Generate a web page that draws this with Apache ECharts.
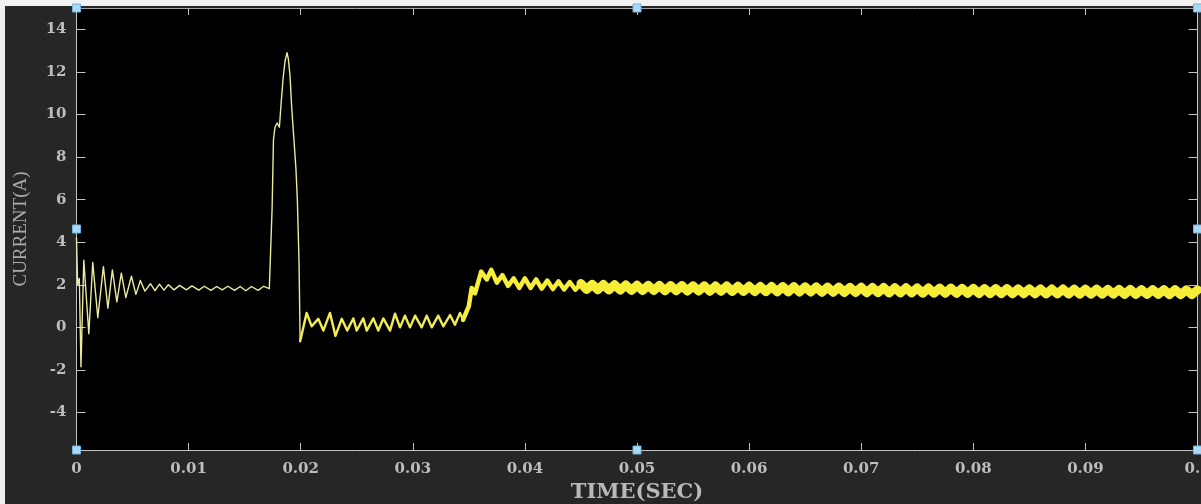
<!DOCTYPE html>
<html>
<head>
<meta charset="utf-8">
<script src="https://cdn.jsdelivr.net/npm/echarts@6/dist/echarts.min.js"></script>
<style>
html,body{margin:0;padding:0;background:#262626;}
#chart{width:1201px;height:504px;}
</style>
</head>
<body>
<div id="chart"></div>
<script>
// ---- data ----
const xTickValues = [0, 0.01, 0.02, 0.03, 0.04, 0.05, 0.06, 0.07, 0.08, 0.09, 0.1];
const xTickLabels = ['0', '0.01', '0.02', '0.03', '0.04', '0.05', '0.06', '0.07', '0.08', '0.09', '0.1'];
const yTickValues = [-4, -2, 0, 2, 4, 6, 8, 10, 12, 14];
const yTickLabels = ['-4', '-2', '0', '2', '4', '6', '8', '10', '12', '14'];
const xRange = [0, 0.1];
const yRange = [-5.76, 15];

const timeSec = [
  0, 0.0001, 0.00025, 0.0004, 0.00065, 0.0011, 0.00145, 0.0019, 0.0024, 0.0028,
  0.0032, 0.0036, 0.0040, 0.0044, 0.0049, 0.0053, 0.0057, 0.0061,
  0.0066, 0.0070, 0.0074, 0.0078, 0.0082, 0.0087, 0.0092, 0.0098, 0.0103, 0.0109,
  0.0114, 0.0120, 0.0125, 0.0130, 0.0135, 0.0141, 0.0146, 0.0151, 0.0156, 0.0162,
  0.0167, 0.0172,
  0.01735, 0.01745, 0.01757, 0.0177, 0.0179, 0.0181, 0.01825, 0.01843, 0.0186, 0.01878,
  0.0189, 0.01905, 0.0192, 0.0194, 0.01958, 0.0197, 0.01985, 0.01995,
  0.02053, 0.02098, 0.02157, 0.02202, 0.02261, 0.0231, 0.02366, 0.02415, 0.02469, 0.025,
  0.02558, 0.02589, 0.02648, 0.02692, 0.02737, 0.02797, 0.02841, 0.02886, 0.0293, 0.02975,
  0.0302, 0.03079, 0.03124, 0.03169, 0.03227, 0.03272, 0.03332, 0.03376, 0.03421, 0.03448,
  0.0350, 0.03525, 0.03555, 0.0361, 0.0366, 0.0370, 0.0375, 0.0380, 0.0385, 0.0390,
  0.0395, 0.0400, 0.0405, 0.0410, 0.0415,
  0.0420, 0.0425, 0.0430, 0.0435, 0.0440, 0.0445, 0.0450, 0.0455, 0.0460, 0.0465,
  0.0470, 0.0475, 0.0480, 0.0485, 0.0490, 0.0495, 0.0500, 0.0505, 0.0510, 0.0515,
  0.0520, 0.0525, 0.0530, 0.0535, 0.0540, 0.0545, 0.0550, 0.0555, 0.0560, 0.0565,
  0.0570, 0.0575, 0.0580, 0.0585, 0.0590, 0.0595, 0.0600, 0.0605, 0.0610, 0.0615,
  0.0620, 0.0625, 0.0630, 0.0635, 0.0640, 0.0645, 0.0650, 0.0655, 0.0660, 0.0665,
  0.0670, 0.0675, 0.0680, 0.0685, 0.0690, 0.0695, 0.0700, 0.0705, 0.0710, 0.0715,
  0.0720, 0.0725, 0.0730, 0.0735, 0.0740, 0.0745, 0.0750, 0.0755, 0.0760, 0.0765,
  0.0770, 0.0775, 0.0780, 0.0785, 0.0790, 0.0795, 0.0800, 0.0805, 0.0810, 0.0815,
  0.0820, 0.0825, 0.0830, 0.0835, 0.0840, 0.0845, 0.0850, 0.0855, 0.0860, 0.0865,
  0.0870, 0.0875, 0.0880, 0.0885, 0.0890, 0.0895, 0.0900, 0.0905, 0.0910, 0.0915,
  0.0920, 0.0925, 0.0930, 0.0935, 0.0940, 0.0945, 0.0950, 0.0955, 0.0960, 0.0965,
  0.0970, 0.0975, 0.0980, 0.0985, 0.0990, 0.0995, 0.1000
];

const currentA = [
  4.2, 2.0, 2.3, -1.85, 3.15, -0.3, 3.05, 0.45, 2.85, 0.9,
  2.7, 1.2, 2.55, 1.4, 2.4, 1.55, 2.2, 1.7,
  2.05, 1.72, 2.03, 1.75, 2.0, 1.76, 1.97, 1.76, 1.95, 1.75,
  1.93, 1.74, 1.92, 1.76, 1.93, 1.74, 1.92, 1.72, 1.92, 1.74,
  1.93, 1.82,
  1.9, 5.6, 8.8, 9.4, 9.6, 9.4, 10.5, 11.7, 12.5, 12.9,
  12.6, 11.8, 10.3, 8.8, 7.4, 6.0, 3.1, -0.65,
  0.68, 0.05, 0.4, -0.15, 0.68, -0.4, 0.4, -0.15, 0.42, -0.15,
  0.42, -0.15, 0.42, -0.15, 0.42, -0.15, 0.64, 0.0, 0.55, 0.0,
  0.55, 0.0, 0.55, 0.0, 0.55, 0.05, 0.58, 0.12, 0.68, 0.35,
  1.0, 1.85, 1.6, 2.62, 2.25, 2.7, 2.1, 2.45, 1.95, 2.3,
  1.85, 2.3, 1.85, 2.25, 1.82,
  2.2, 1.8, 2.16, 1.78, 2.13, 1.77, 2.06, 1.78, 2.02, 1.77,
  2.01, 1.76, 2.0, 1.75, 1.99, 1.74, 1.98, 1.73, 1.97, 1.73,
  1.97, 1.72, 1.96, 1.72, 1.96, 1.71, 1.95, 1.71, 1.95, 1.70,
  1.94, 1.70, 1.94, 1.69, 1.93, 1.69, 1.93, 1.68, 1.92, 1.68,
  1.92, 1.67, 1.91, 1.67, 1.91, 1.66, 1.90, 1.66, 1.90, 1.65,
  1.89, 1.65, 1.89, 1.64, 1.88, 1.64, 1.88, 1.63, 1.87, 1.63,
  1.87, 1.62, 1.86, 1.62, 1.86, 1.62, 1.85, 1.61, 1.85, 1.61,
  1.84, 1.60, 1.84, 1.60, 1.83, 1.60, 1.83, 1.59, 1.82, 1.59,
  1.82, 1.59, 1.82, 1.58, 1.81, 1.58, 1.81, 1.58, 1.80, 1.57,
  1.80, 1.57, 1.80, 1.57, 1.79, 1.56, 1.79, 1.56, 1.79, 1.56,
  1.78, 1.56, 1.78, 1.55, 1.78, 1.55, 1.77, 1.55, 1.77, 1.55,
  1.77, 1.54, 1.77, 1.54, 1.76, 1.54, 1.76
];

// ---- styling / layout ----
const segments = [
  { from: 0, to: 0.01995, width: 1.4, color: '#ecea9c' },
  { from: 0.01995, to: 0.03448, width: 2.4, color: '#f3ec55' },
  { from: 0.03448, to: 0.045, width: 4.5, color: '#f6ee3a' },
  { from: 0.045, to: 0.1, width: 9, color: '#f6ee36' }
];
const G = { left: 76.5, right: 3.5, top: 8, bottom: 54 };
const W = 1201, H = 504;

const points = timeSec.map((t, i) => [t, currentA[i]]);
const series = segments.map(s => ({
  type: 'line',
  data: points.filter(p => p[0] >= s.from - 1e-9 && p[0] <= s.to + 1e-9),
  showSymbol: false,
  symbol: 'none',
  animation: false,
  silent: true,
  lineStyle: { width: s.width, color: s.color, join: 'round', cap: 'round' },
  clip: true
}));

const labelFont = { fontFamily: 'DejaVu Serif', fontWeight: 'bold', fontSize: 15, color: '#bdbdbd' };
const axisLineStyle = { color: '#c4c4c4', width: 1 };

// selection handles around the axes box
const gx0 = G.left, gx1 = W - G.right, gy0 = G.top, gy1 = H - G.bottom;
const gxm = (gx0 + gx1) / 2, gym = (gy0 + gy1) / 2;
const handlePos = [[gx0, gy0], [gxm, gy0], [gx1, gy0], [gx0, gym], [gx1, gym], [gx0, gy1], [gxm, gy1], [gx1, gy1]];
const handles = handlePos.map(p => ({
  type: 'rect', z: 100,
  shape: { x: p[0] - 4, y: p[1] - 4, width: 8, height: 8 },
  style: { fill: '#a9d9f7', stroke: '#6fb3e0', lineWidth: 1 }
}));

const chart = echarts.init(document.getElementById('chart'), null, { renderer: 'canvas' });
chart.setOption({
  backgroundColor: '#262626',
  animation: false,
  grid: { left: G.left, right: G.right, top: G.top, bottom: G.bottom, show: true, backgroundColor: '#000000', borderWidth: 0, containLabel: false, outerBoundsMode: 'none' },
  xAxis: [
    {
      type: 'value', min: xRange[0], max: xRange[1], position: 'bottom',
      name: 'TIME(SEC)', nameLocation: 'middle', nameGap: 28,
      nameTextStyle: { fontFamily: 'DejaVu Serif', fontWeight: 'bold', fontSize: 21, color: '#b9b9b9' },
      axisLine: { show: true, onZero: false, lineStyle: axisLineStyle },
      axisTick: { show: true, inside: true, length: 7, lineStyle: axisLineStyle, customValues: xTickValues },
      axisLabel: Object.assign({ margin: 12, customValues: xTickValues,
        formatter: v => { const i = xTickValues.findIndex(x => Math.abs(x - v) < 1e-9); return i >= 0 ? xTickLabels[i] : ''; } }, labelFont),
      splitLine: { show: false }
    },
    {
      type: 'value', min: xRange[0], max: xRange[1], position: 'top',
      axisLine: { show: true, onZero: false, lineStyle: { color: '#a8a8a8', width: 1 } },
      axisTick: { show: true, inside: true, length: 7, lineStyle: axisLineStyle, customValues: xTickValues },
      axisLabel: { show: false },
      splitLine: { show: false }
    }
  ],
  yAxis: [
    {
      type: 'value', min: yRange[0], max: yRange[1], position: 'left',
      name: 'CURRENT(A)', nameLocation: 'middle', nameGap: 46, nameRotate: 90,
      nameTextStyle: { fontFamily: 'Liberation Serif', fontWeight: 'normal', fontSize: 19, color: '#ababab' },
      axisLine: { show: true, onZero: false, lineStyle: axisLineStyle },
      axisTick: { show: true, inside: true, length: 9, lineStyle: axisLineStyle, customValues: yTickValues },
      axisLabel: Object.assign({ margin: 10, customValues: yTickValues,
        formatter: v => { const i = yTickValues.findIndex(x => Math.abs(x - v) < 1e-9); return i >= 0 ? yTickLabels[i] : ''; } }, labelFont),
      splitLine: { show: false }
    },
    {
      type: 'value', min: yRange[0], max: yRange[1], position: 'right',
      axisLine: { show: true, onZero: false, lineStyle: axisLineStyle },
      axisTick: { show: true, inside: true, length: 9, lineStyle: axisLineStyle, customValues: yTickValues },
      axisLabel: { show: false },
      splitLine: { show: false }
    }
  ],
  series: series,
  graphic: [
    { type: 'rect', z: 90, shape: { x: 0, y: 0, width: W, height: 6 }, style: { fill: '#f2f2f2' } },
    { type: 'rect', z: 90, shape: { x: 0, y: 0, width: 5, height: H }, style: { fill: '#efefef' } }
  ].concat(handles)
});
</script>
</body>
</html>
